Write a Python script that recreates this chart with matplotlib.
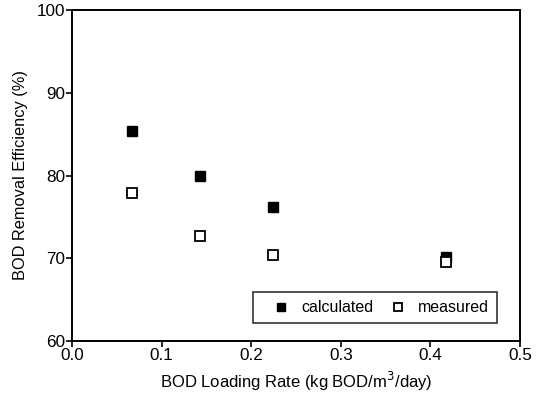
import matplotlib.pyplot as plt

plt.rcParams['font.family'] = ['Liberation Sans', 'DejaVu Sans']

# BOD loading rate (kg BOD/m3/day)
loading = [0.067, 0.143, 0.224, 0.417]
calculated = [85.4, 80.0, 76.2, 70.1]
measured = [77.9, 72.7, 70.4, 69.6]

fig = plt.figure(figsize=(5.42, 3.93), dpi=100)
ax = fig.add_axes([72/542, 1 - 341/393, 448/542, 331/393])

ax.plot(loading, calculated, 's', color='black', markersize=6.5,
        linestyle='none', label='calculated')
ax.plot(loading, measured, 's', markerfacecolor='white', markeredgecolor='black',
        markeredgewidth=1.3, markersize=6.5, linestyle='none', label='measured')

ax.set_xlim(0, 0.5)
ax.set_ylim(60, 100)
ax.set_xticks([0.0, 0.1, 0.2, 0.3, 0.4, 0.5])
ax.set_yticks([60, 70, 80, 90, 100])
ax.set_xticklabels(['0.0', '0.1', '0.2', '0.3', '0.4', '0.5'])
ax.tick_params(direction='out', length=4, width=1.2, labelsize=12.3, pad=1)
for s in ax.spines.values():
    s.set_linewidth(1.4)

ax.set_xlabel('BOD Loading Rate (kg BOD/m$^3$/day)', fontsize=12, labelpad=5)
ax.set_ylabel('BOD Removal Efficiency (%)', fontsize=11.8, labelpad=6)

leg = ax.legend(loc='lower left', bbox_to_anchor=(0.404, 0.054),
                ncol=2, frameon=True, fancybox=False, markerscale=0.8,
                fontsize=11.5, handletextpad=0.0, borderaxespad=0, borderpad=0.5,
                columnspacing=0.3, handlelength=2.5, numpoints=1)
leg.get_frame().set_edgecolor('black')
leg.get_frame().set_linewidth(1.2)

fig.savefig('out.png', dpi=100)
